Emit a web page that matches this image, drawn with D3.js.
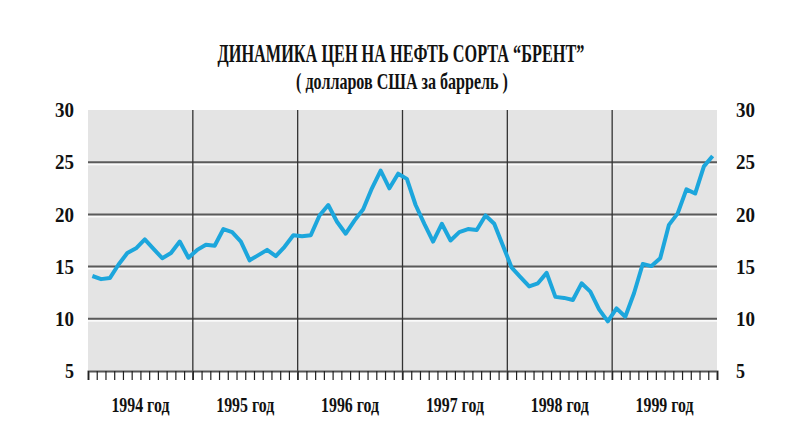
<!DOCTYPE html>
<html>
<head>
<meta charset="utf-8">
<script src="https://cdn.jsdelivr.net/npm/d3@7"></script>
<style>
  body { margin: 0; background: #fff; }
  text { font-family: "Liberation Serif", "DejaVu Serif", serif; fill: #111; }
</style>
</head>
<body>
<svg width="788" height="442"></svg>
<script>
// monthly Brent prices, USD per barrel, Jan 1994 - Dec 1999
const years = ["1994", "1995", "1996", "1997", "1998", "1999"];
const prices1994 = [14.1, 13.8, 13.9, 15.2, 16.3, 16.75, 17.6, 16.7, 15.8, 16.3, 17.4, 15.85];
const prices1995 = [16.6, 17.1, 17.0, 18.6, 18.3, 17.4, 15.6, 16.1, 16.6, 16.0, 16.9, 18.0];
const prices1996 = [17.9, 18.0, 19.9, 20.9, 19.3, 18.15, 19.4, 20.5, 22.5, 24.2, 22.5, 23.9];
const prices1997 = [23.4, 20.9, 19.1, 17.4, 19.1, 17.5, 18.3, 18.6, 18.5, 19.9, 19.1, 17.0];
const prices1998 = [14.9, 14.0, 13.1, 13.4, 14.4, 12.1, 12.0, 11.8, 13.4, 12.6, 10.9, 9.75];
const prices1999 = [11.0, 10.2, 12.45, 15.25, 15.05, 15.8, 19.0, 20.1, 22.4, 22.0, 24.6, 25.6];
const yTicks = [5, 10, 15, 20, 25, 30];

const prices = [].concat(prices1994, prices1995, prices1996, prices1997, prices1998, prices1999);
const data = prices.map((v, i) => ({ m: i, v: v }));

const margin = { top: 110, right: 71, bottom: 71, left: 88 };
const width = 788 - margin.left - margin.right;
const height = 442 - margin.top - margin.bottom;

const svg = d3.select("svg");

// narrow poster-like serif: draw bold text, then squeeze it horizontally
function squeezed(sel, cx, cy, w) {
    const t = sel.attr("text-anchor", "middle");
    const sx = w / t.node().getComputedTextLength();
    t.attr("transform", `translate(${cx},${cy}) scale(${sx},1)`);
    return t;
}

squeezed(svg.append("text")
    .style("font-size", "26px")
    .style("font-weight", "bold")
    .text("ДИНАМИКА ЦЕН НА НЕФТЬ СОРТА “БРЕНТ”"), 401, 62, 367);

squeezed(svg.append("text")
    .style("font-size", "24px")
    .style("font-weight", "bold")
    .text("( долларов США за баррель )"), 402, 89, 212);

const g = svg.append("g")
    .attr("transform", `translate(${margin.left},${margin.top})`);

const x = d3.scaleLinear()
    .domain([0, prices.length])
    .range([0, width]);

const y = d3.scaleLinear()
    .domain([5, 30])
    .range([height, 0]);

g.append("rect")
    .attr("width", width)
    .attr("height", height)
    .attr("fill", "#e4e4e4");

// horizontal grid: dark line with a white line under it
const grid = g.selectAll(".grid").data(yTicks.filter(d => d > 5 && d < 30))
    .enter().append("g")
    .attr("class", "grid")
    .attr("transform", d => `translate(0,${y(d)})`);
grid.append("line")
    .attr("x2", width).attr("y1", 2).attr("y2", 2)
    .attr("stroke", "#fafafa").attr("stroke-width", 2);
grid.append("line")
    .attr("x2", width)
    .attr("stroke", "#5a5a5a").attr("stroke-width", 2);

// year separators
g.selectAll(".yearline").data(d3.range(1, years.length))
    .enter().append("line")
    .attr("class", "yearline")
    .attr("x1", d => x(d * 12)).attr("x2", d => x(d * 12))
    .attr("y1", 0).attr("y2", height + 9)
    .attr("stroke", "#333").attr("stroke-width", 1.3);

// month ticks at the bottom
const xAxis = d3.axisBottom(x)
    .tickValues(d3.range(0, prices.length + 1))
    .tickSize(9)
    .tickFormat("");
const xa = g.append("g")
    .attr("class", "x axis")
    .attr("transform", `translate(0,${height})`)
    .call(xAxis);
xa.select(".domain").attr("stroke", "#555").attr("stroke-width", 2);
xa.selectAll(".tick line").attr("stroke", "#222").attr("stroke-width", 1.2);

// year labels
g.selectAll(".year").data(years)
    .enter().append("text")
    .attr("class", "year")
    .attr("x", (d, i) => x(i * 12 + 6))
    .attr("y", height + 41)
    .attr("text-anchor", "middle")
    .attr("textLength", 58)
    .attr("lengthAdjust", "spacingAndGlyphs")
    .style("font-size", "20px")
    .style("font-weight", "bold")
    .text(d => d + " год");

// value labels on both sides
const yLeft = d3.axisLeft(y).tickValues(yTicks).tickSize(0).tickPadding(14);
const yRight = d3.axisRight(y).tickValues(yTicks).tickSize(0).tickPadding(19);
[g.append("g").call(yLeft),
 g.append("g").attr("transform", `translate(${width},0)`).call(yRight)].forEach(a => {
    a.select(".domain").remove();
    a.selectAll("text")
        .style("font-family", '"Liberation Serif", "DejaVu Serif", serif')
        .style("font-size", "21px")
        .style("font-weight", "bold")
        .attr("textLength", d => d < 10 ? 9 : 19)
        .attr("lengthAdjust", "spacingAndGlyphs")
        .attr("fill", "#111");
});

const line = d3.line()
    .x(d => x(d.m + 0.5))
    .y(d => y(d.v));

g.append("path")
    .datum(data)
    .attr("fill", "none")
    .attr("stroke", "#1ca6dc")
    .attr("stroke-width", 4)
    .attr("stroke-linejoin", "round")
    .attr("d", line);
</script>
</body>
</html>
